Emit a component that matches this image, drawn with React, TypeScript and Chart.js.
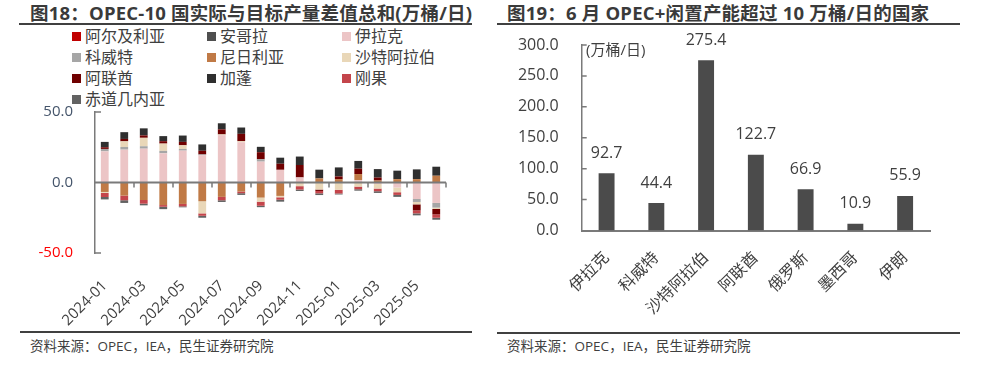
import React, { useEffect, useRef } from 'react';
import { Chart, registerables } from 'chart.js';
Chart.register(...registerables);

// ---------- Left chart data (万桶/日) ----------
const months = ['2024-01','2024-02','2024-03','2024-04','2024-05','2024-06','2024-07','2024-08','2024-09','2024-10','2024-11','2024-12','2025-01','2025-02','2025-03','2025-04','2025-05','2025-06'];
const algeria = [0,0,0,0,0,0,0,0,0,0,0,0,0,0,0,0,0,0];
const angola = [0,0,0,0,0,0,0,0,0,0,0,0,0,0,0,0,0,0];
const iraq = [22.1,23.3,24.0,20.7,22.6,19.3,33.6,28.6,14.8,9.0,3.6,0,0,1.7,-1.0,-3.6,-11.7,-14.5];
const kuwait = [1.7,1.9,1.7,1.7,1.2,0.6,0,0,1.7,0,0,0,0,0,0,0,-2.1,-3.3];
const nigeria = [-6.7,-9.3,-12.4,-16.0,-15.2,-13.3,-10.2,-6.4,-10.7,-9.5,0,2.9,2.4,4.3,1.4,2.4,2.4,4.8];
const saudi = [-0.7,4.0,6.0,5.2,2.6,-8.6,0.5,0.7,-2.9,-1.0,-2.6,-5.0,-5.2,-2.9,-3.3,-3.3,-1.7,-1.0];
const uae = [1.2,1.7,1.7,1.7,2.4,2.6,3.6,5.2,5.0,4.3,8.8,-1.0,1.9,3.8,2.1,0,-4.3,-3.8];
const gabon = [3.8,4.8,5.0,3.6,4.5,4.5,4.3,4.5,3.8,4.3,6.0,6.2,6.4,5.5,6.0,6.0,6.9,6.4];
const congo = [-2.9,-3.3,-2.6,-1.2,-1.7,-1.7,-2.4,-1.2,-2.9,-1.7,-2.4,-1.7,-2.6,-1.9,-1.9,-1.9,-2.1,-2.4];
const eqGuinea = [-1.7,-1.9,-1.2,-1.7,-0.7,-1.4,-1.2,-1.2,-1.0,-1.4,-1.0,-1.2,-0.7,-1.0,-1.2,-1.4,-1.4,-1.4];
const leftYTicks = [-50, 0, 50];

const seriesNames = ['阿尔及利亚','安哥拉','伊拉克','科威特','尼日利亚','沙特阿拉伯','阿联酋','加蓬','刚果','赤道几内亚'];
const seriesColors = ['#c00000','#4f4f4f','#ecc5c6','#a6a6a6','#c07a46','#e9d7b8','#700000','#2f2f2f','#c4454b','#626262'];
const seriesData = [algeria, angola, iraq, kuwait, nigeria, saudi, uae, gabon, congo, eqGuinea];

// ---------- Right chart data ----------
const countries = ['伊拉克','科威特','沙特阿拉伯','阿联酋','俄罗斯','墨西哥','伊朗'];
const spareCapacity = [92.7, 44.4, 275.4, 122.7, 66.9, 10.9, 55.9];

const FONT = "'Open Sans','Noto Sans CJK SC',sans-serif";
const TXT = '#404040';

const leftAxisPlugin = {
  id: 'leftAxis',
  afterDatasetsDraw(chart: any) {
    const { ctx, chartArea, scales } = chart;
    const y0 = scales.y.getPixelForValue(0);
    const n = chart.data.labels.length;
    ctx.save();
    ctx.strokeStyle = '#7a7a7a';
    ctx.lineWidth = 2;
    ctx.beginPath();
    ctx.moveTo(chartArea.left, y0);
    ctx.lineTo(chartArea.right, y0);
    ctx.stroke();
    ctx.lineWidth = 1.5;
    ctx.beginPath();
    for (let k = 2; k <= n; k += 2) {
      const x = scales.x.getPixelForValue(k - 0.5);
      ctx.moveTo(x, y0);
      ctx.lineTo(x, y0 + 5);
    }
    const yt = scales.y.getPixelForValue(50);
    const yb = scales.y.getPixelForValue(-50);
    ctx.moveTo(chartArea.left, yt);
    ctx.lineTo(chartArea.left + 6, yt);
    ctx.moveTo(chartArea.left, yb);
    ctx.lineTo(chartArea.left + 6, yb);
    ctx.stroke();
    ctx.restore();
  },
};

const rightPlugin = {
  id: 'rightDecor',
  afterDatasetsDraw(chart: any) {
    const { ctx, chartArea, scales } = chart;
    ctx.save();
    ctx.strokeStyle = '#7a7a7a';
    ctx.lineWidth = 1.5;
    ctx.beginPath();
    for (let v = 50; v <= 300; v += 50) {
      const y = scales.y.getPixelForValue(v);
      ctx.moveTo(chartArea.left, y);
      ctx.lineTo(chartArea.left + 5, y);
    }
    ctx.stroke();
    const meta = chart.getDatasetMeta(0);
    ctx.fillStyle = TXT;
    ctx.font = `16px ${FONT}`;
    ctx.textAlign = 'center';
    ctx.textBaseline = 'middle';
    meta.data.forEach((bar: any, i: number) => {
      ctx.fillText(spareCapacity[i].toFixed(1), bar.x, bar.y - 20);
    });
    ctx.restore();
  },
};

function LeftChart() {
  const ref = useRef<HTMLCanvasElement>(null);
  useEffect(() => {
    const chart = new Chart(ref.current!, {
      type: 'bar',
      data: {
        labels: months,
        datasets: seriesNames.map((name, i) => ({
          label: name,
          data: seriesData[i],
          backgroundColor: seriesColors[i],
          borderWidth: 0,
          barPercentage: 0.4,
          categoryPercentage: 1,
        })),
      },
      options: {
        responsive: false,
        animation: false,
        devicePixelRatio: 1,
        layout: { padding: { top: 12, right: 34, bottom: 0, left: 0 } },
        plugins: { legend: { display: false }, tooltip: { enabled: false } },
        scales: {
          x: {
            stacked: true,
            grid: { display: false, drawTicks: false },
            border: { display: false },
            ticks: {
              autoSkip: false,
              maxRotation: 45,
              minRotation: 45,
              padding: 24,
              color: TXT,
              font: { family: FONT, size: 15 },
              callback: (_v: any, i: number) => (i % 2 === 0 ? months[i] : ''),
            },
            afterFit: (s: any) => { s.height = 79; },
          },
          y: {
            stacked: true,
            min: -50,
            max: 50,
            afterBuildTicks: (s: any) => { s.ticks = leftYTicks.map((v) => ({ value: v })); },
            grid: { display: false, drawTicks: false },
            border: { display: true, color: '#7a7a7a', width: 1.5 },
            ticks: {
              padding: 22,
              font: { family: FONT, size: 15 },
              color: (c: any) => (c.tick && c.tick.value < 0 ? '#ff0000' : '#44546a'),
              callback: (v: any) => Number(v).toFixed(1),
            },
            afterFit: (s: any) => { s.width = 95; s.paddingTop = 8; s.paddingBottom = 8; },
          },
        },
      },
      plugins: [leftAxisPlugin],
    });
    return () => chart.destroy();
  }, []);
  return <canvas ref={ref} width={480} height={232} style={{ position: 'absolute', left: 0, top: 100 }} />;
}

function RightChart() {
  const ref = useRef<HTMLCanvasElement>(null);
  useEffect(() => {
    const chart = new Chart(ref.current!, {
      type: 'bar',
      data: {
        labels: countries,
        datasets: [{
          label: '闲置产能',
          data: spareCapacity,
          backgroundColor: '#4b4b4b',
          borderWidth: 0,
          barPercentage: 0.32,
          categoryPercentage: 1,
        }],
      },
      options: {
        responsive: false,
        animation: false,
        devicePixelRatio: 1,
        layout: { padding: { top: 45, right: 59, bottom: 0, left: 0 } },
        plugins: { legend: { display: false }, tooltip: { enabled: false } },
        scales: {
          x: {
            grid: { display: false, drawTicks: false },
            border: { display: true, color: '#7a7a7a', width: 2 },
            ticks: {
              autoSkip: false,
              maxRotation: 45,
              minRotation: 45,
              padding: 18,
              color: TXT,
              font: { family: FONT, size: 16 },
            },
            afterFit: (s: any) => { s.height = 101.5; },
          },
          y: {
            min: 0,
            max: 300,
            grid: { display: false, drawTicks: false },
            border: { display: true, color: '#7a7a7a', width: 1.5 },
            ticks: {
              stepSize: 50,
              padding: 23,
              color: TXT,
              font: { family: FONT, size: 16 },
              callback: (v: any) => Number(v).toFixed(1),
            },
            afterFit: (s: any) => { s.width = 86.7; },
          },
        },
      },
      plugins: [rightPlugin],
    });
    return () => chart.destroy();
  }, []);
  return <canvas ref={ref} width={494} height={332} style={{ position: 'absolute', left: 495, top: 0 }} />;
}

const abs = (o: any) => ({ position: 'absolute' as const, whiteSpace: 'nowrap' as const, ...o });

export default function App() {
  const legendCols = [72, 207, 342];
  const legendRows = [36, 57, 78, 99];
  return (
    <div style={{ position: 'absolute', left: 0, top: 0, width: 989, height: 366, background: '#fff', fontFamily: FONT, color: TXT, overflow: 'hidden' }}>
      <div style={abs({ left: 30, top: 2, fontSize: 18.5, lineHeight: '22px', fontWeight: 700, letterSpacing: '0.2px', color: '#3a3a3a' })}>图18：OPEC-10 国实际与目标产量差值总和(万桶/日)</div>
      <div style={abs({ left: 19, top: 22.5, width: 453, height: 2, background: '#404040' })} />
      <div style={abs({ left: 507, top: 2, fontSize: 18.5, lineHeight: '22px', fontWeight: 700, letterSpacing: '0.2px', color: '#3a3a3a' })}>图19：6 月 OPEC+闲置产能超过 10 万桶/日的国家</div>
      <div style={abs({ left: 497, top: 22.5, width: 463, height: 2, background: '#404040' })} />
      {seriesNames.map((name, i) => {
        const col = i % 3;
        const row = Math.floor(i / 3);
        return (
          <div key={name} style={abs({ left: legendCols[col], top: legendRows[row] - 11, height: 22, display: 'flex', alignItems: 'center', fontSize: 16, lineHeight: '22px', color: TXT })}>
            <span style={{ display: 'inline-block', width: 9, height: 9, background: seriesColors[i], marginRight: 4 }} />
            <span>{name}</span>
          </div>
        );
      })}
      <LeftChart />
      <RightChart />
      <div style={abs({ left: 586, top: 38, fontSize: 15, lineHeight: '22px', color: TXT })}>(万桶/日)</div>
      <div style={abs({ left: 20, top: 331, width: 452, height: 2, background: '#404040' })} />
      <div style={abs({ left: 497, top: 331.5, width: 463, height: 2, background: '#404040' })} />
      <div style={abs({ left: 30, top: 337, fontSize: 13.5, lineHeight: '18px', color: TXT })}>资料来源：OPEC，IEA，民生证券研究院</div>
      <div style={abs({ left: 507, top: 337, fontSize: 13.5, lineHeight: '18px', color: TXT })}>资料来源：OPEC，IEA，民生证券研究院</div>
    </div>
  );
}
